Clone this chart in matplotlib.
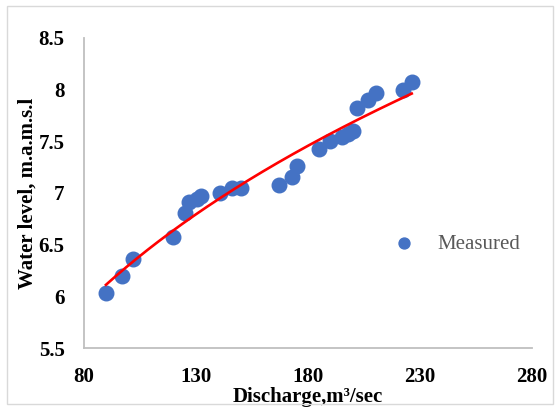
import numpy as np
import matplotlib
matplotlib.use('Agg')
import matplotlib.pyplot as plt
from matplotlib.patches import Rectangle

# measured discharge (m3/sec) and water level (m.a.m.s.l)
discharge = [89.8, 96.8, 101.7, 119.9, 125.1, 127.0, 130.3, 132.1, 140.7, 145.9,
             150.1, 167.1, 173.0, 175.0, 185.0, 189.8, 195.0, 198.0, 200.2, 202.0,
             206.9, 210.4, 222.5, 226.3]
level = [6.03, 6.20, 6.36, 6.57, 6.81, 6.91, 6.94, 6.97, 7.00, 7.05,
         7.05, 7.08, 7.15, 7.26, 7.43, 7.50, 7.54, 7.57, 7.60, 7.82,
         7.90, 7.97, 8.00, 8.07]
xticks = [80, 130, 180, 230, 280]
yticks = [5.5, 6, 6.5, 7, 7.5, 8, 8.5]

plt.rcParams['font.family'] = ['Liberation Serif', 'DejaVu Serif']

fig = plt.figure(figsize=(5.58, 4.08), dpi=100)
ax = fig.add_axes([0.1505, 0.147, 0.803, 0.76])

ax.scatter(discharge, level, s=110, color='#4472C4', zorder=2, label='Measured')

# power trend line (fit in log-log space)
x = np.array(discharge)
p, c = np.polyfit(np.log(x), np.log(level), 1)
xs = np.linspace(x.min(), x.max(), 200)
ax.plot(xs, np.exp(c) * xs ** p, color='red', lw=1.9, zorder=3)

ax.set_xlim(80, 280)
ax.set_ylim(5.5, 8.5)
ax.set_xticks(xticks)
ax.set_yticks(yticks)
ax.set_xticklabels([str(t) for t in xticks])
ax.set_yticklabels([('%g' % t) for t in yticks])
ax.tick_params(length=0, labelsize=15)
ax.tick_params(axis='x', pad=14)
ax.tick_params(axis='y', pad=14)
for lb in ax.get_xticklabels() + ax.get_yticklabels():
    lb.set_fontweight('bold')

for s in ['top', 'right']:
    ax.spines[s].set_visible(False)
for s in ['left', 'bottom']:
    ax.spines[s].set_color('#BFBFBF')
    ax.spines[s].set_linewidth(1.3)

ax.set_xlabel('Discharge,m\u00b3/sec', fontsize=15, fontweight='bold', labelpad=0)
ax.set_ylabel('Water level, m.a.m.s.l', fontsize=15, fontweight='bold', labelpad=1)

leg = ax.legend(loc='center left', bbox_to_anchor=(0.625, 0.335), frameon=False,
                fontsize=15, handletextpad=0.6, markerscale=0.75)
for t in leg.get_texts():
    t.set_color('#595959')

fig.patches.append(Rectangle((7 / 558, 4 / 408), 546 / 558, 398 / 408, transform=fig.transFigure,
                             fill=False, edgecolor='#D9D9D9', lw=1))

fig.savefig('out.png', dpi=100)
